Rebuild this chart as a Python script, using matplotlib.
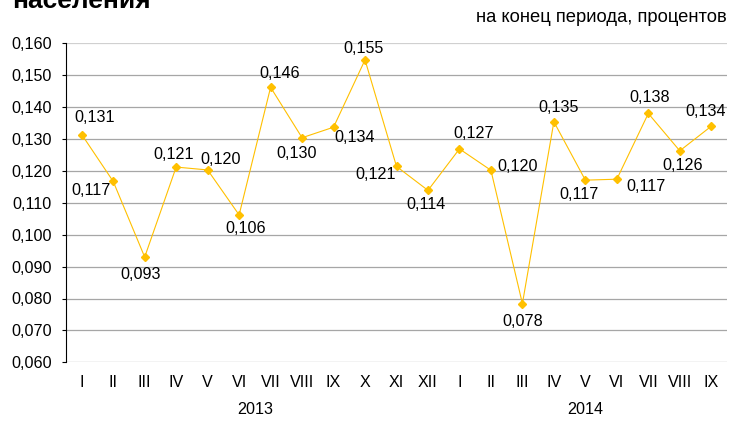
import matplotlib
matplotlib.use("Agg")
import matplotlib.pyplot as plt
import matplotlib.transforms as mtransforms

plt.rcParams['font.family'] = ['Liberation Sans', 'DejaVu Sans']

months = ["I", "II", "III", "IV", "V", "VI", "VII", "VIII", "IX", "X", "XI", "XII",
          "I", "II", "III", "IV", "V", "VI", "VII", "VIII", "IX"]
values = [0.1314, 0.1167, 0.0930, 0.1212, 0.1203, 0.1062, 0.1462, 0.1304, 0.1337,
          0.1548, 0.1214, 0.1139, 0.1269, 0.1202, 0.0784, 0.1354, 0.1171, 0.1174,
          0.1380, 0.1263, 0.1340]
years = ["2013", "2014"]
year_centers = [5.5, 16.0]
yticks = [0.060, 0.070, 0.080, 0.090, 0.100, 0.110, 0.120, 0.130, 0.140, 0.150, 0.160]

# label offsets in pixels (dx, dy), dy positive = up
label_offsets = [(13, 17), (-22, -9), (-4, -17), (-3, 13), (13, 10), (7, -14),
                 (9, 14), (-5, -16), (21, -10), (-2, 11), (-21, -8), (-2, -14),
                 (14, 15), (27, 4), (0, -18), (5, 14), (-6, -14), (29, -7),
                 (1, 16), (3, -15), (-6, 15)]

FS = 11.6

fig = plt.figure(figsize=(7.38, 4.21), dpi=100)
ax = fig.add_axes([66/738, 1-362.3/421, (727-66)/738, (362.3-43.3)/421])

x = list(range(len(values)))
ax.plot(x, values, color='#FFC000', linewidth=0.8, marker='D', markersize=4,
        markerfacecolor='#FFC000', markeredgecolor='#FFC000', zorder=3)

for xi, v, (dx, dy) in zip(x, values, label_offsets):
    ax.annotate(f"{v:.3f}".replace('.', ','), (xi, v), xytext=(dx, dy),
                textcoords='offset pixels', ha='center', va='center',
                fontsize=FS, color='black', zorder=4)

ax.set_xlim(-0.5, len(values) - 0.5)
ax.set_ylim(0.060, 0.160)
ax.set_yticks(yticks)
ax.set_yticklabels([f"{t:.3f}".replace('.', ',') for t in yticks], fontsize=FS)
ax.set_xticks(x)
ax.set_xticklabels(months, fontsize=FS)

for t in yticks:
    col = '#D0D0D0' if t == yticks[-1] else '#A6A6A6'
    ax.axhline(t, color=col, linewidth=0.9, zorder=1)

for s in ['top', 'right', 'bottom']:
    ax.spines[s].set_visible(False)
ax.spines['left'].set_color('black')
ax.spines['left'].set_linewidth(0.8)
ax.spines['left'].set_zorder(2)
ax.tick_params(axis='y', length=3, width=0.8, pad=7, colors='black')
ax.tick_params(axis='x', length=0, pad=9)

trans = mtransforms.blended_transform_factory(ax.transData, fig.transFigure)
for yr, c in zip(years, year_centers):
    ax.text(c, 1 - 410/421, yr, transform=trans, ha='center', va='center', fontsize=FS)

fig.text(12/738, 1 - 8/421, "населения", fontsize=19, fontweight='bold',
         ha='left', va='baseline')
fig.text(727/738, 1 - 22/421, "на конец периода, процентов", fontsize=13.2,
         ha='right', va='baseline')

fig.savefig("out.png", dpi=100)
